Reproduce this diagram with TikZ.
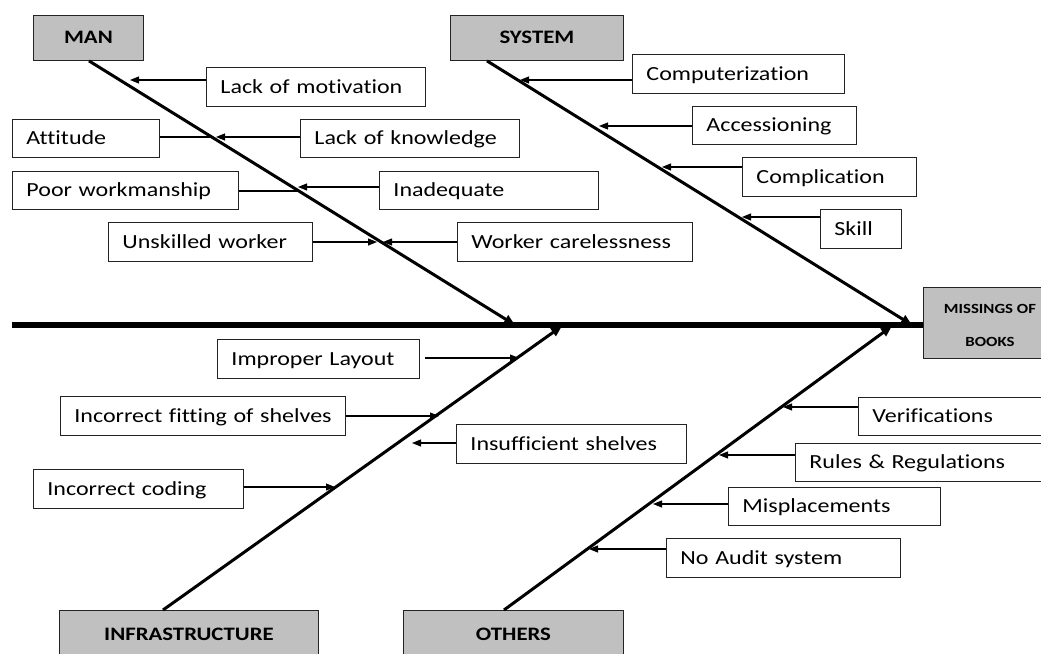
\documentclass[tikz,border=0pt]{standalone}
\usepackage{fontspec}
\setmainfont{Carlito}[FakeStretch=1.2, Ligatures=NoCommon]
\usetikzlibrary{arrows.meta}
\definecolor{headgray}{RGB}{192,192,192}
\definecolor{edgecol}{RGB}{35,35,35}
\begin{document}
\begin{tikzpicture}[x=1pt,y=-1pt,
  cause/.style={draw=edgecol, line width=0.9pt, anchor=north west, minimum height=39pt,
    inner xsep=14pt, inner ysep=0pt, text height=13pt, text depth=0pt, align=left,
    font=\fontsize{20}{24}\selectfont},
  head/.style={draw=edgecol, line width=0.9pt, fill=headgray, anchor=north west,
    inner sep=0pt, text height=12pt, text depth=0pt, font=\fontsize{19}{23}\selectfont\bfseries},
  bone/.style={line width=3pt, -{Triangle[length=11pt,width=9pt]}},
  twig/.style={line width=1.1pt, -{Triangle[length=9pt,width=7pt]}},
  twigline/.style={line width=1.1pt},
  spine/.style={line width=5.5pt}]
\useasboundingbox (0,0) rectangle (1041,653);
\clip (0,0) rectangle (1041,653);

% heads
\node[head, minimum width=110pt, minimum height=45pt] (man) at (33,15) {MAN};
\node[head, minimum width=173pt, minimum height=45pt] (sys) at (450,15) {SYSTEM};
\node[head, minimum width=259pt, minimum height=49pt] (infra) at (59,610) {INFRASTRUCTURE};
\node[head, minimum width=220pt, minimum height=49pt] (oth) at (403,610) {OTHERS};
\node[head, font=\fontsize{14}{33}\selectfont\bfseries, align=center, minimum width=133pt,
  minimum height=71pt, text height=47pt, text depth=0pt] (eff) at (923,287) {MISSINGS OF\\BOOKS};

% causes - MAN
\node[cause, text width=191pt] (lm) at (206,67) {Lack of motivation};
\node[cause, text width=119pt, minimum height=38pt] (att) at (12,119) {Attitude};
\node[cause, text width=191pt, minimum height=38pt] (lk) at (300,119) {Lack of knowledge};
\node[cause, text width=198pt, minimum height=38pt] (pw) at (12,171) {Poor workmanship};
\node[cause, text width=191pt, minimum height=38pt] (inad) at (379,171) {Inadequate};
\node[cause, text width=176pt] (uw) at (108,222) {Unskilled worker};
\node[cause, text width=207pt] (wc) at (457,222) {\mbox{Worker carelessness}};
% causes - SYSTEM
\node[cause, text width=184pt] (comp) at (632,54) {Computerization};
\node[cause, text width=136pt, minimum height=38pt] (acc) at (692,106) {Accessioning};
\node[cause, text width=146pt] (cpl) at (742,157) {Complication};
\node[cause, text width=53pt] (skill) at (820,209) {Skill};
% causes - INFRASTRUCTURE
\node[cause, text width=174pt] (il) at (217,339) {Improper Layout};
\node[cause, text width=257pt] (ifs) at (60,396) {\mbox{Incorrect fitting of shelves}};
\node[cause, text width=202pt] (ins) at (456,424) {Insufficient shelves};
\node[cause, text width=182pt] (ic) at (33,469) {Incorrect coding};
% causes - OTHERS
\node[cause, text width=172pt, minimum height=38pt] (ver) at (858,397) {Verifications};
\node[cause, text width=232pt, minimum height=38pt] (rr) at (795,443) {\mbox{Rules \& Regulations}};
\node[cause, text width=184pt, minimum height=38pt] (mis) at (728,487) {Misplacements};
\node[cause, text width=206pt] (nas) at (666,538) {No Audit system};

% spine
\coordinate (tail) at (12,325);
\draw[spine] (tail) -- (tail -| eff.west);

% bones
\coordinate (manend) at (515,325);
\coordinate (sysend) at (912,325);
\coordinate (infend) at (562,326);
\coordinate (othend) at (892,326);
\draw[bone] ([xshift=56pt]man.south west) -- (manend);
\draw[bone] ([xshift=37pt]sys.south west) -- (sysend);
\draw[bone] ([xshift=104pt]infra.north west) -- (infend);
\draw[bone] ([xshift=101pt]oth.north west) -- (othend);

% twig tips
\coordinate (tlm) at (130,80);
\coordinate (tatt) at (213,137);
\coordinate (tlk) at (216,137);
\coordinate (tpw) at (297,191);
\coordinate (tinad) at (298,187);
\coordinate (tuw) at (377,242);
\coordinate (twc) at (383,242);
\coordinate (tcomp) at (520,80);
\coordinate (tacc) at (599,126);
\coordinate (tcpl) at (662,167);
\coordinate (tskill) at (742,217);
\coordinate (til) at (519,358);
\coordinate (tifs) at (439,416);
\coordinate (tins) at (412,443);
\coordinate (tic) at (335,487);
\coordinate (tver) at (783,407);
\coordinate (trr) at (719,455);
\coordinate (tmis) at (653,504);
\coordinate (tnas) at (589,549);

% twigs
\draw[twig] (lm.west |- tlm) -- (tlm);
\draw[twigline] (att.east |- tatt) -- (tatt);
\draw[twig] (lk.west |- tlk) -- (tlk);
\draw[twigline] (pw.east |- tpw) -- (tpw);
\draw[twig] (inad.west |- tinad) -- (tinad);
\draw[twig] (uw.east |- tuw) -- (tuw);
\draw[twig] (wc.west |- twc) -- (twc);
\draw[twig] (comp.west |- tcomp) -- (tcomp);
\draw[twig] (acc.west |- tacc) -- (tacc);
\draw[twig] (cpl.west |- tcpl) -- (tcpl);
\draw[twig] (skill.west |- tskill) -- (tskill);
\draw[twig] ([xshift=5pt]il.east |- til) -- (til);
\draw[twig] (ifs.east |- tifs) -- (tifs);
\draw[twig] (ins.west |- tins) -- (tins);
\draw[twig] (ic.east |- tic) -- (tic);
\draw[twig] (ver.west |- tver) -- (tver);
\draw[twig] (rr.west |- trr) -- (trr);
\draw[twig] (mis.west |- tmis) -- (tmis);
\draw[twig] (nas.west |- tnas) -- (tnas);
\end{tikzpicture}
\end{document}
